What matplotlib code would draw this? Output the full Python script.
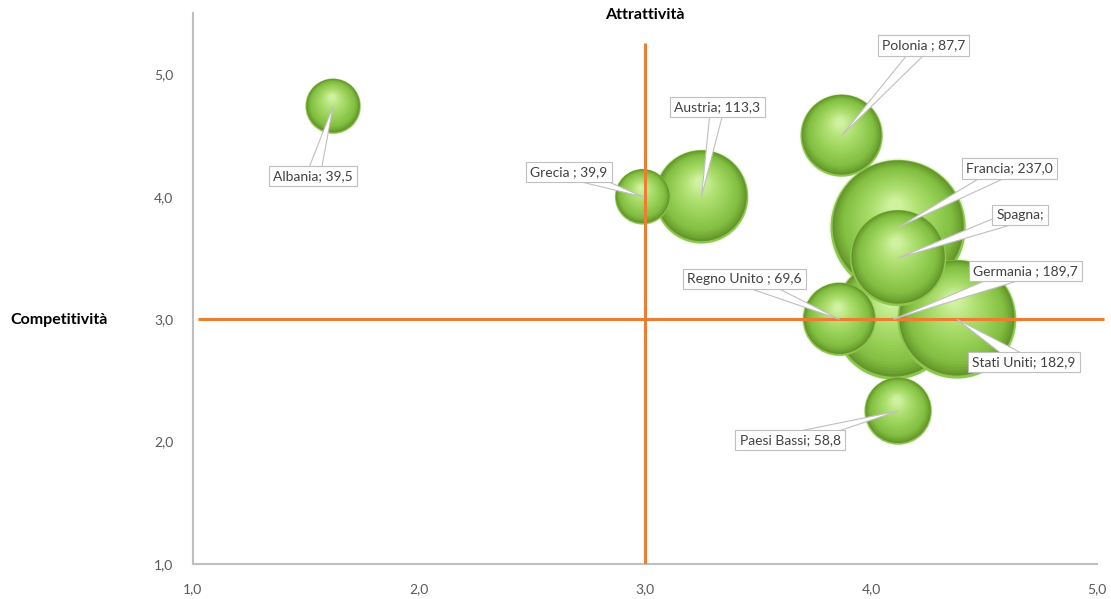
import matplotlib.pyplot as plt
import numpy as np
from matplotlib.colors import LinearSegmentedColormap
from matplotlib.transforms import ScaledTranslation

# --- Data ---
paesi = ['Albania', 'Grecia', 'Austria', 'Polonia', 'Francia', 'Spagna',
         'Germania', 'Stati Uniti', 'Regno Unito', 'Paesi Bassi']
attrattivita = [1.62, 2.99, 3.25, 3.87, 4.12, 4.12, 4.10, 4.38, 3.86, 4.12]
competitivita = [4.74, 4.00, 4.00, 4.50, 3.75, 3.50, 3.00, 3.00, 3.00, 2.25]
valori = [39.5, 39.9, 113.3, 87.7, 237.0, 120.0, 189.7, 182.9, 69.6, 58.8]
etichette = ['Albania; 39,5', 'Grecia ; 39,9', 'Austria; 113,3', 'Polonia ; 87,7',
             'Francia; 237,0', 'Spagna;', 'Germania ; 189,7', 'Stati Uniti; 182,9',
             'Regno Unito ; 69,6', 'Paesi Bassi; 58,8']

tick_valori = [1, 2, 3, 4, 5]
tick_etichette = ['1,0', '2,0', '3,0', '4,0', '5,0']
soglia_x = 3.0
soglia_y = 3.0

# label box offsets from the bubble centre, in pixels
label_offset = {
    'Albania': (-20, -70), 'Grecia': (-74, 25), 'Austria': (16, 90),
    'Polonia': (82, 90), 'Francia': (111, 59), 'Spagna': (122, 43),
    'Germania': (132, 48), 'Stati Uniti': (67, -43),
    'Regno Unito': (-95, 40), 'Paesi Bassi': (-108, -29),
}

plt.rcParams['font.family'] = ['Lato', 'DejaVu Sans']

fig = plt.figure(figsize=(11.11, 5.99), dpi=100)
ax = fig.add_axes([0.1737, 0.0584, 0.8137, 0.9196])
ax.set_xlim(1, 5)
ax.set_ylim(1, 5.5)

green = LinearSegmentedColormap.from_list(
    'sfera', ['#64962a', '#82bf42', '#96cf56', '#aedf70', '#d0f2a0'])

scale = 40.0
n_layers = 26
order = np.argsort(valori)[::-1]   # big bubbles behind

for i in order:
    x, y, s = attrattivita[i], competitivita[i], valori[i] * scale
    R = np.sqrt(s) / 2.0   # radius in points
    ax.scatter([x], [y], s=s * 1.05, color='#f1f9e6', edgecolors='none', zorder=1.9)
    # soft light rim at the bottom
    ax.scatter([x], [y], s=s, color='#8ec652', edgecolors='none', zorder=2)
    for k in range(n_layers):
        t = k / (n_layers - 1)
        f = 0.97 - 0.87 * t
        dx = -0.04 * R * t
        dy = 0.02 * R + 0.30 * R * t
        tr = ax.transData + ScaledTranslation(dx / 72, dy / 72, fig.dpi_scale_trans)
        ax.scatter([x], [y], s=s * f * f, color=green(t ** 0.8),
                   edgecolors='none', transform=tr, zorder=2)

# quadrant lines
ax.plot([soglia_x, soglia_x], [1, 5.26], color='#ED7D31', lw=2.2, zorder=3,
        solid_capstyle='butt')
ax.plot([1.02, 5.03], [soglia_y, soglia_y], color='#ED7D31', lw=2.2, zorder=3,
        solid_capstyle='butt', clip_on=False)

# data labels with callouts
for i, nome in enumerate(paesi):
    ox, oy = label_offset[nome]
    ax.annotate(etichette[i], xy=(attrattivita[i], competitivita[i]),
                xytext=(ox, oy), textcoords='offset pixels',
                ha='center', va='center', fontsize=10, color='#404040', zorder=5,
                bbox=dict(boxstyle='square,pad=0.3', fc='white', ec='#bfbfbf', lw=0.8),
                arrowprops=dict(arrowstyle='wedge,tail_width=1.0,shrink_factor=0.5',
                                fc='white', ec='#bfbfbf', lw=0.8,
                                shrinkA=0, shrinkB=0, patchA=None))

# axes styling
for side in ['top', 'right']:
    ax.spines[side].set_visible(False)
for side in ['left', 'bottom']:
    ax.spines[side].set_color('#bfbfbf')
    ax.spines[side].set_linewidth(1.5)
ax.set_xticks(tick_valori)
ax.set_xticklabels(tick_etichette)
ax.set_yticks(tick_valori)
ax.set_yticklabels(tick_etichette)
ax.tick_params(length=0, colors='#595959', labelsize=10, pad=14)

fig.text(645 / 1111, 1 - 15 / 599, 'Attrattività', ha='center', va='center',
         fontsize=11.5, fontweight='bold', color='black')
fig.text(10 / 1111, 1 - 320 / 599, 'Competitività', ha='left', va='center',
         fontsize=11.5, fontweight='bold', color='black')

fig.savefig('out.png', dpi=100, facecolor='white')
